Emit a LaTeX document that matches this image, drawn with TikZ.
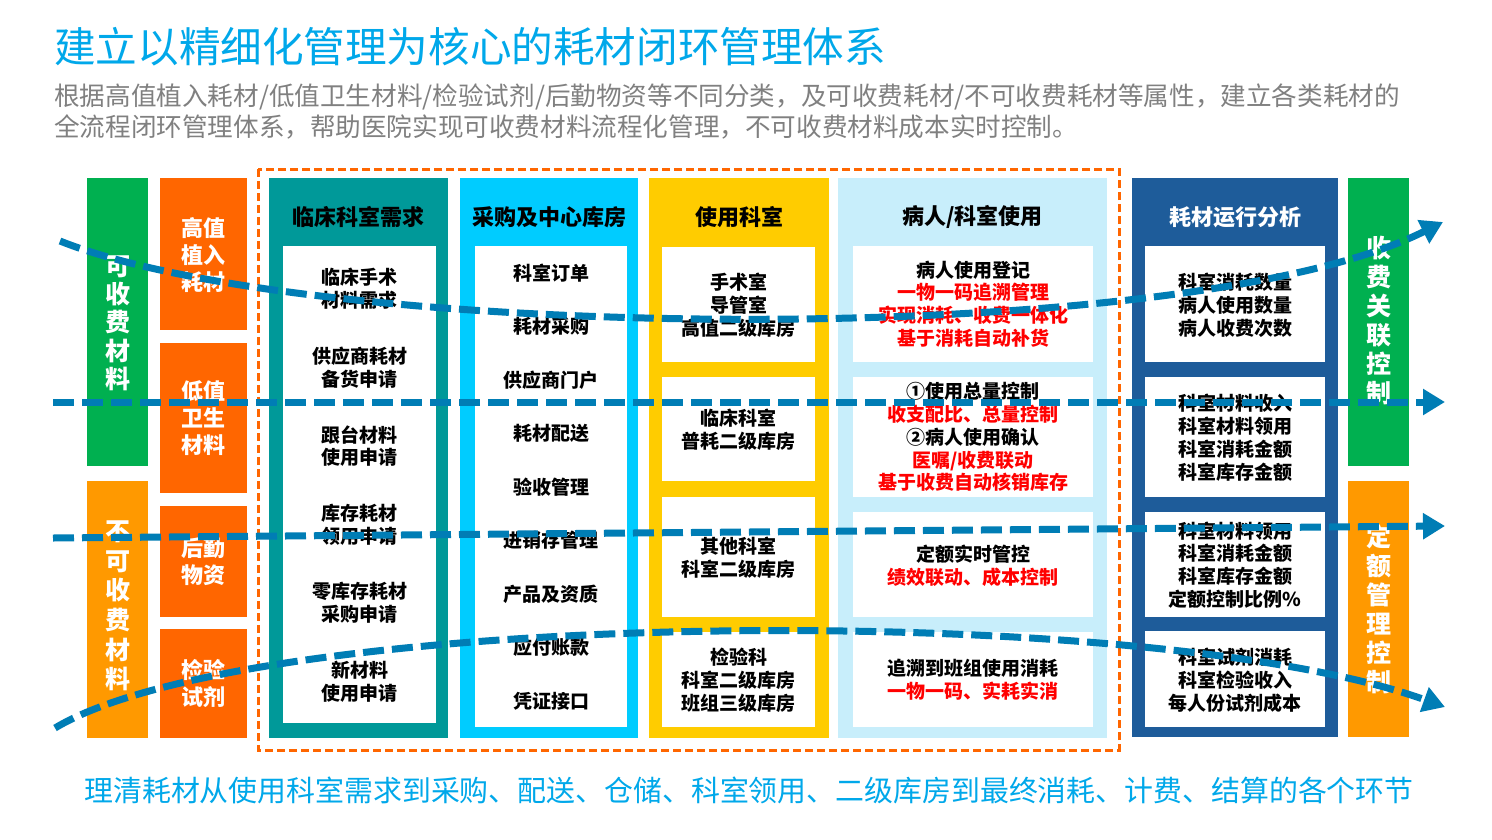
\documentclass[tikz,border=0pt]{standalone}
\usepackage{fontspec}
\setmainfont{Noto Sans CJK SC}
\usetikzlibrary{arrows.meta}
\definecolor{ctitle}{RGB}{0,168,234}
\definecolor{csub}{RGB}{128,128,128}
\definecolor{cgreen}{RGB}{0,176,80}
\definecolor{camber}{RGB}{255,153,0}
\definecolor{corange}{RGB}{255,102,0}
\definecolor{cteal}{RGB}{0,153,153}
\definecolor{ccyan}{RGB}{0,204,255}
\definecolor{cyellow}{RGB}{255,204,0}
\definecolor{clight}{RGB}{200,238,251}
\definecolor{cdark}{RGB}{30,92,154}
\definecolor{cflow}{RGB}{0,125,181}
\definecolor{cred}{RGB}{255,0,0}
\tikzset{
  boxtxt/.style={font=\bfseries\fontsize{19}{22.8}\selectfont, align=center, inner sep=0pt},
  hdr/.style={font=\bfseries\fontsize{22}{26}\selectfont, inner sep=0pt},
  sidetxt/.style={font=\bfseries\fontsize{22}{27}\selectfont, text=white, align=center, inner sep=0pt},
  vtxt/.style={font=\bfseries\fontsize{25}{29}\selectfont, text=white, align=center, inner sep=0pt},
  flow/.style={draw=cflow, line width=7pt, dash pattern=on 21pt off 8pt},
  tipend/.style={-{Triangle[length=22pt,width=25pt]}},
  frame/.style={draw=corange, line width=3pt, dash pattern=on 8pt off 4pt}
}
\newcommand{\rd}[1]{\textcolor{cred}{#1}}
\begin{document}
\begin{tikzpicture}[x=1pt,y=-1pt]
\useasboundingbox (0,0) rectangle (1492,839);
\fill[white] (0,0) rectangle (1492,839);

% titles
\node[anchor=west, inner sep=0pt, text=ctitle, font=\fontsize{41.6}{42}\selectfont] (title) at (54,47) {建立以精细化管理为核心的耗材闭环管理体系};
\node[anchor=west, inner sep=0pt, text=csub, font=\fontsize{25.6}{30}\selectfont] (sub1) at (54,97) {根据高值植入耗材/低值卫生材料/检验试剂/后勤物资等不同分类，及可收费耗材/不可收费耗材等属性，建立各类耗材的};
\node[anchor=west, inner sep=0pt, text=csub, font=\fontsize{25.6}{30}\selectfont] (sub2) at (54,127) {全流程闭环管理体系，帮助医院实现可收费材料流程化管理，不可收费材料成本实时控制。};
\node[inner sep=0pt, text=ctitle, font=\fontsize{28.9}{30}\selectfont] (bottom) at (749,790) {理清耗材从使用科室需求到采购、配送、仓储、科室领用、二级库房到最终消耗、计费、结算的各个环节};

% left side boxes
\fill[cgreen] (87,178) rectangle (148,466);
\fill[camber] (87,481) rectangle (148,738);
\fill[corange] (160,178) rectangle (247,330);
\fill[corange] (160,343) rectangle (247,493);
\fill[corange] (160,506) rectangle (247,617);
\fill[corange] (160,629) rectangle (247,738);
\node[vtxt, font=\bfseries\fontsize{25}{28.3}\selectfont] (lg) at (117.5,323) {可\\收\\费\\材\\料};
\node[vtxt, font=\bfseries\fontsize{25}{29.6}\selectfont] (la) at (117.5,606) {不\\可\\收\\费\\材\\料};
\node[sidetxt] (o1) at (203.5,255) {高值\\植入\\耗材};
\node[sidetxt] (o2) at (203.5,418) {低值\\卫生\\材料};
\node[sidetxt] (o3) at (203.5,562) {后勤\\物资};
\node[sidetxt] (o4) at (203.5,683.5) {检验\\试剂};

% dashed frame
\draw[frame] (258,169) rectangle (1119,750);

% column 1
\fill[cteal] (269,178) rectangle (448,738);
\fill[white] (283,246) rectangle (436,723);
\node[hdr] (h1) at (358.5,217) {临床科室需求};
\node[boxtxt] (a1) at (359.5,289) {临床手术\\材料需求};
\node[boxtxt] (a2) at (359.5,367.5) {供应商耗材\\备货申请};
\node[boxtxt] (a3) at (359.5,446) {跟台材料\\使用申请};
\node[boxtxt] (a4) at (359.5,524.5) {库存耗材\\领用申请};
\node[boxtxt] (a5) at (359.5,603) {零库存耗材\\采购申请};
\node[boxtxt] (a6) at (359.5,681.5) {新材料\\使用申请};

% column 2
\fill[ccyan] (460,178) rectangle (638,738);
\fill[white] (475,246) rectangle (627,727);
\node[hdr] (h2) at (549,217) {采购及中心库房};
\node[boxtxt] (b1) at (551,273) {科室订单};
\node[boxtxt] (b2) at (551,326.5) {耗材采购};
\node[boxtxt] (b3) at (551,380) {供应商门户};
\node[boxtxt] (b4) at (551,433.5) {耗材配送};
\node[boxtxt] (b5) at (551,487) {验收管理};
\node[boxtxt] (b6) at (551,540.5) {进销存管理};
\node[boxtxt] (b7) at (551,594) {产品及资质};
\node[boxtxt] (b8) at (551,647.5) {应付账款};
\node[boxtxt] (b9) at (551,701) {凭证接口};

% column 3
\fill[cyellow] (649,178) rectangle (829,738);
\fill[white] (662,247) rectangle (815,362);
\fill[white] (662,377) rectangle (815,481);
\fill[white] (662,497) rectangle (815,617);
\fill[white] (662,632) rectangle (815,727);
\node[hdr] (h3) at (739,217) {使用科室};
\node[boxtxt] (c1) at (738.5,305) {手术室\\导管室\\高值二级库房};
\node[boxtxt] (c2) at (738.5,430) {临床科室\\普耗二级库房};
\node[boxtxt] (c3) at (738.5,558) {其他科室\\科室二级库房};
\node[boxtxt] (c4) at (738.5,680) {检验科\\科室二级库房\\班组三级库房};

% column 4
\fill[clight] (838,178) rectangle (1107,738);
\fill[white] (853,246) rectangle (1093,362);
\fill[white] (853,377) rectangle (1093,497);
\fill[white] (853,512) rectangle (1093,617);
\fill[white] (853,632) rectangle (1093,727);
\node[hdr] (h4) at (972.5,217) {病人/科室使用};
\node[boxtxt] (d1) at (973,304) {病人使用登记\\\rd{一物一码追溯管理}\\\rd{实现消耗、收费一体化}\\\rd{基于消耗自动补货}};
\node[boxtxt] (d2) at (973,437) {①使用总量控制\\\rd{收支配比、总量控制}\\②病人使用确认\\\rd{医嘱/收费联动}\\\rd{基于收费自动核销库存}};
\node[boxtxt] (d3) at (973,566) {定额实时管控\\\rd{绩效联动、成本控制}};
\node[boxtxt] (d4) at (973,680) {追溯到班组使用消耗\\\rd{一物一码、实耗实消}};

% column 5
\fill[cdark] (1132,178) rectangle (1338,737);
\fill[white] (1145,246) rectangle (1325,362);
\fill[white] (1145,377) rectangle (1325,497);
\fill[white] (1145,512) rectangle (1325,617);
\fill[white] (1145,631) rectangle (1325,727);
\node[hdr, text=white] (h5) at (1235,217) {耗材运行分析};
\node[boxtxt] (e1) at (1235,305) {科室消耗数量\\病人使用数量\\病人收费次数};
\node[boxtxt] (e2) at (1235,437.5) {科室材料收入\\科室材料领用\\科室消耗金额\\科室库存金额};
\node[boxtxt] (e3) at (1235,565) {科室材料领用\\科室消耗金额\\科室库存金额\\定额控制比例\%};
\node[boxtxt] (e4) at (1235,680) {科室试剂消耗\\科室检验收入\\每人份试剂成本};

% right side boxes
\fill[cgreen] (1348,178) rectangle (1409,466);
\fill[camber] (1348,481) rectangle (1409,737);
\node[vtxt] (rg) at (1378.5,320.5) {收\\费\\关\\联\\控\\制};
\node[vtxt] (ra) at (1378.5,609.5) {定\\额\\管\\理\\控\\制};

% flow lines
\coordinate (f1s) at (60,241);
\coordinate (f1e) at (1443,222);
\coordinate (f2s) at (53,402);
\coordinate (f2e) at (1445,402);
\coordinate (f3s) at (53,538);
\coordinate (f3e) at (1445,526);
\coordinate (f4s) at (55,728);
\coordinate (f4e) at (1445,707);
\draw[flow, tipend] (f1s) .. controls (310,341) and (1181,353) .. (f1e);
\draw[flow, tipend] (f2s) -- (f2e);
\draw[flow, tipend] (f3s) -- (f3e);
\draw[flow, tipend] (f4s) .. controls (255,608) and (1145,599) .. (f4e);
\end{tikzpicture}
\end{document}
